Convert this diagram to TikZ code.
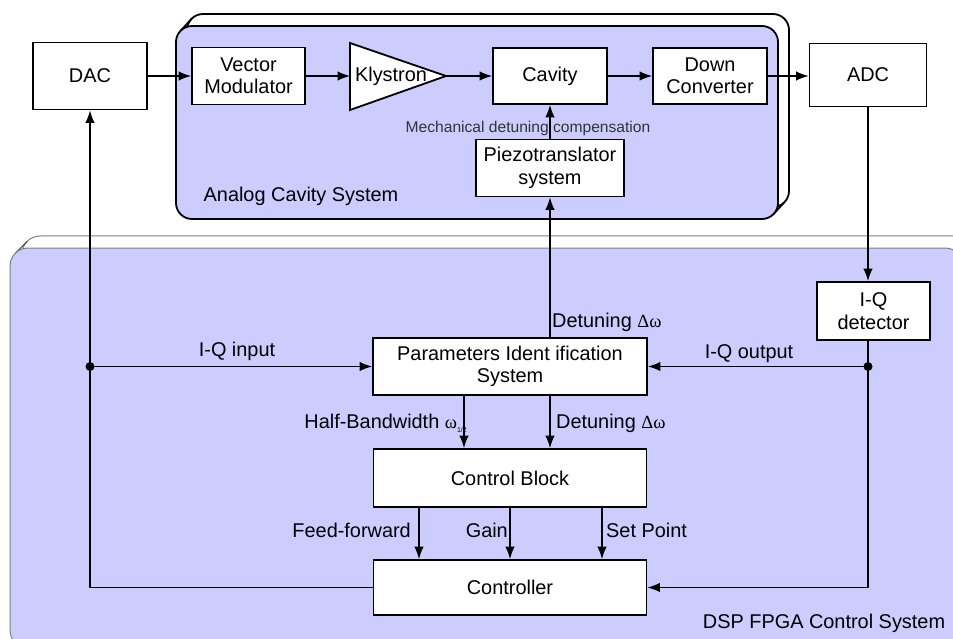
\documentclass[tikz,border=0pt]{standalone}
\usepackage{fontspec}
\setmainfont{Liberation Sans}
\newfontfamily\greekfont{Liberation Serif}
\usetikzlibrary{arrows.meta,calc}
\definecolor{panel}{RGB}{204,204,255}
\newcommand\lbl{\fontsize{19.9}{22.5}\selectfont}
\newcommand\gk[1]{{\greekfont\fontsize{18.5}{22}\selectfont #1}}
\begin{document}
\begin{tikzpicture}[x=1pt,y=-1pt,
  blk/.style={draw,line width=1.8pt,fill=white,inner sep=0pt,align=center,font=\lbl},
  conn/.style={line width=1.4pt,-{Latex[length=12.5pt,width=9.5pt]}},
  junction/.style={circle,fill,inner sep=0pt,minimum size=9pt},
  tag/.style={font=\lbl,inner sep=0pt}]
\path[use as bounding box] (0,0) rectangle (953,639);
\clip (0,0) rectangle (953,639);

% DSP FPGA control system panel (extruded look)
\draw[gray,line width=1pt,fill=white,rounded corners=18pt] (22,236) rectangle (975,636);
\draw[line width=1pt,black!70] (15.3,253.3) -- (27.3,241.3);
\draw[gray,line width=1pt,fill=panel,rounded corners=18pt] (10,248) rectangle (963,648);

% Analog cavity system panel (extruded look)
\draw[line width=1.8pt,fill=white,rounded corners=16pt] (187,14) rectangle (789,207);
\draw[line width=1.8pt] (180.7,30.7) -- (191.7,18.7);
\draw[line width=1.8pt] (773.3,214.3) -- (784.3,202.3);
\draw[line width=1.8pt,fill=panel,rounded corners=16pt] (176,26) rectangle (778,219);

% top signal chain
\node[blk,minimum width=114pt,minimum height=67pt] (dac) at (90,76) {DAC};
\node[blk,minimum width=113pt,minimum height=57pt] (vm) at (248.5,76) {Vector\\Modulator};
\draw[line width=1.8pt,fill=white] (350,43) -- (446,76) -- (350,110) -- cycle;
\coordinate (kin) at (350,76);
\coordinate (kout) at (446,76);
\node[tag] (kly) at (391,76) {Klystron};
\node[blk,minimum width=114pt,minimum height=56pt] (cav) at (550,76) {Cavity};
\node[blk,minimum width=114pt,minimum height=56pt] (dc) at (710,76) {Down\\Converter};
\node[blk,minimum width=117pt,minimum height=63pt] (adc) at (868,75) {ADC};
\node[blk,minimum width=148pt,minimum height=57pt] (piezo) at (550,168) {Piezotranslator\\system};

\draw[conn] (dac.east) -- (vm.west);
\draw[conn] (vm.east) -- (kin);
\draw[conn] (kout) -- (cav.west);
\draw[conn] (cav.east) -- (dc.west);
\draw[conn] (dc.east) -- (dc.east -| adc.west);
\draw[conn] (piezo.north) -- (cav.south);
\node[font=\fontsize{15.6}{18}\selectfont,text=black!80,inner sep=0pt] (mech) at (528,128) {Mechanical detuning compensation};
\node[tag] (acs) at (301,196) {Analog Cavity System};

% DSP blocks
\node[blk,minimum width=113pt,minimum height=58pt] (iq) at (873.5,311) {I-Q\\detector};
\node[blk,minimum width=274pt,minimum height=57pt] (pis) at (510,366.5) {Parameters Ident ification\\System};
\node[blk,minimum width=273pt,minimum height=58pt] (cb) at (510,478) {Control Block};
\node[blk,minimum width=273pt,minimum height=55pt] (ctrl) at (510,587.5) {Controller};
\node[tag] (dsp) at (824,623) {DSP FPGA Control System};

% feedback paths
\coordinate (jl) at (dac.south |- pis.west);
\coordinate (jr) at (adc.south |- pis.east);
\draw[conn] (adc.south) -- (adc.south |- iq.north);
\draw[conn] (adc.south |- iq.south) -- (adc.south |- ctrl.east) -- (ctrl.east);
\draw[conn] (jr) -- (pis.east);
\draw[conn] (ctrl.west) -- (ctrl.west -| dac.south) -- (dac.south);
\draw[conn] (jl) -- (pis.west);
\node[junction] (jld) at (jl) {};
\node[junction] (jrd) at (jr) {};
\node[tag] (iqin) at (237,351) {I-Q input};
\node[tag] (iqout) at (749,354) {I-Q output};

\draw[conn] (piezo.south |- pis.north) -- (piezo.south);
\node[tag,anchor=west] (det1) at (552,322) {Detuning \gk{Δω}};

\draw[conn] ($(pis.south)+(-46,0)$) -- ($(cb.north)+(-46,0)$);
\draw[conn] ($(pis.south)+(40,0)$) -- ($(cb.north)+(40,0)$);
\node[tag,anchor=east] (hbw) at (467,423) {Half-Bandwidth \gk{ω}\raisebox{-4pt}{\fontsize{7}{7}\selectfont 1/2}};
\node[tag,anchor=west] (det2) at (556,423) {Detuning \gk{Δω}};

\draw[conn] ($(cb.south)+(-91,0)$) -- ($(ctrl.north)+(-91,0)$);
\draw[conn] (cb.south) -- (ctrl.north);
\draw[conn] ($(cb.south)+(92,0)$) -- ($(ctrl.north)+(92,0)$);
\node[tag,anchor=east] (ff) at (411,530) {Feed-forward};
\node[tag,anchor=east] (gain) at (508,530) {Gain};
\node[tag,anchor=west] (sp) at (606,530) {Set Point};
\end{tikzpicture}
\end{document}
